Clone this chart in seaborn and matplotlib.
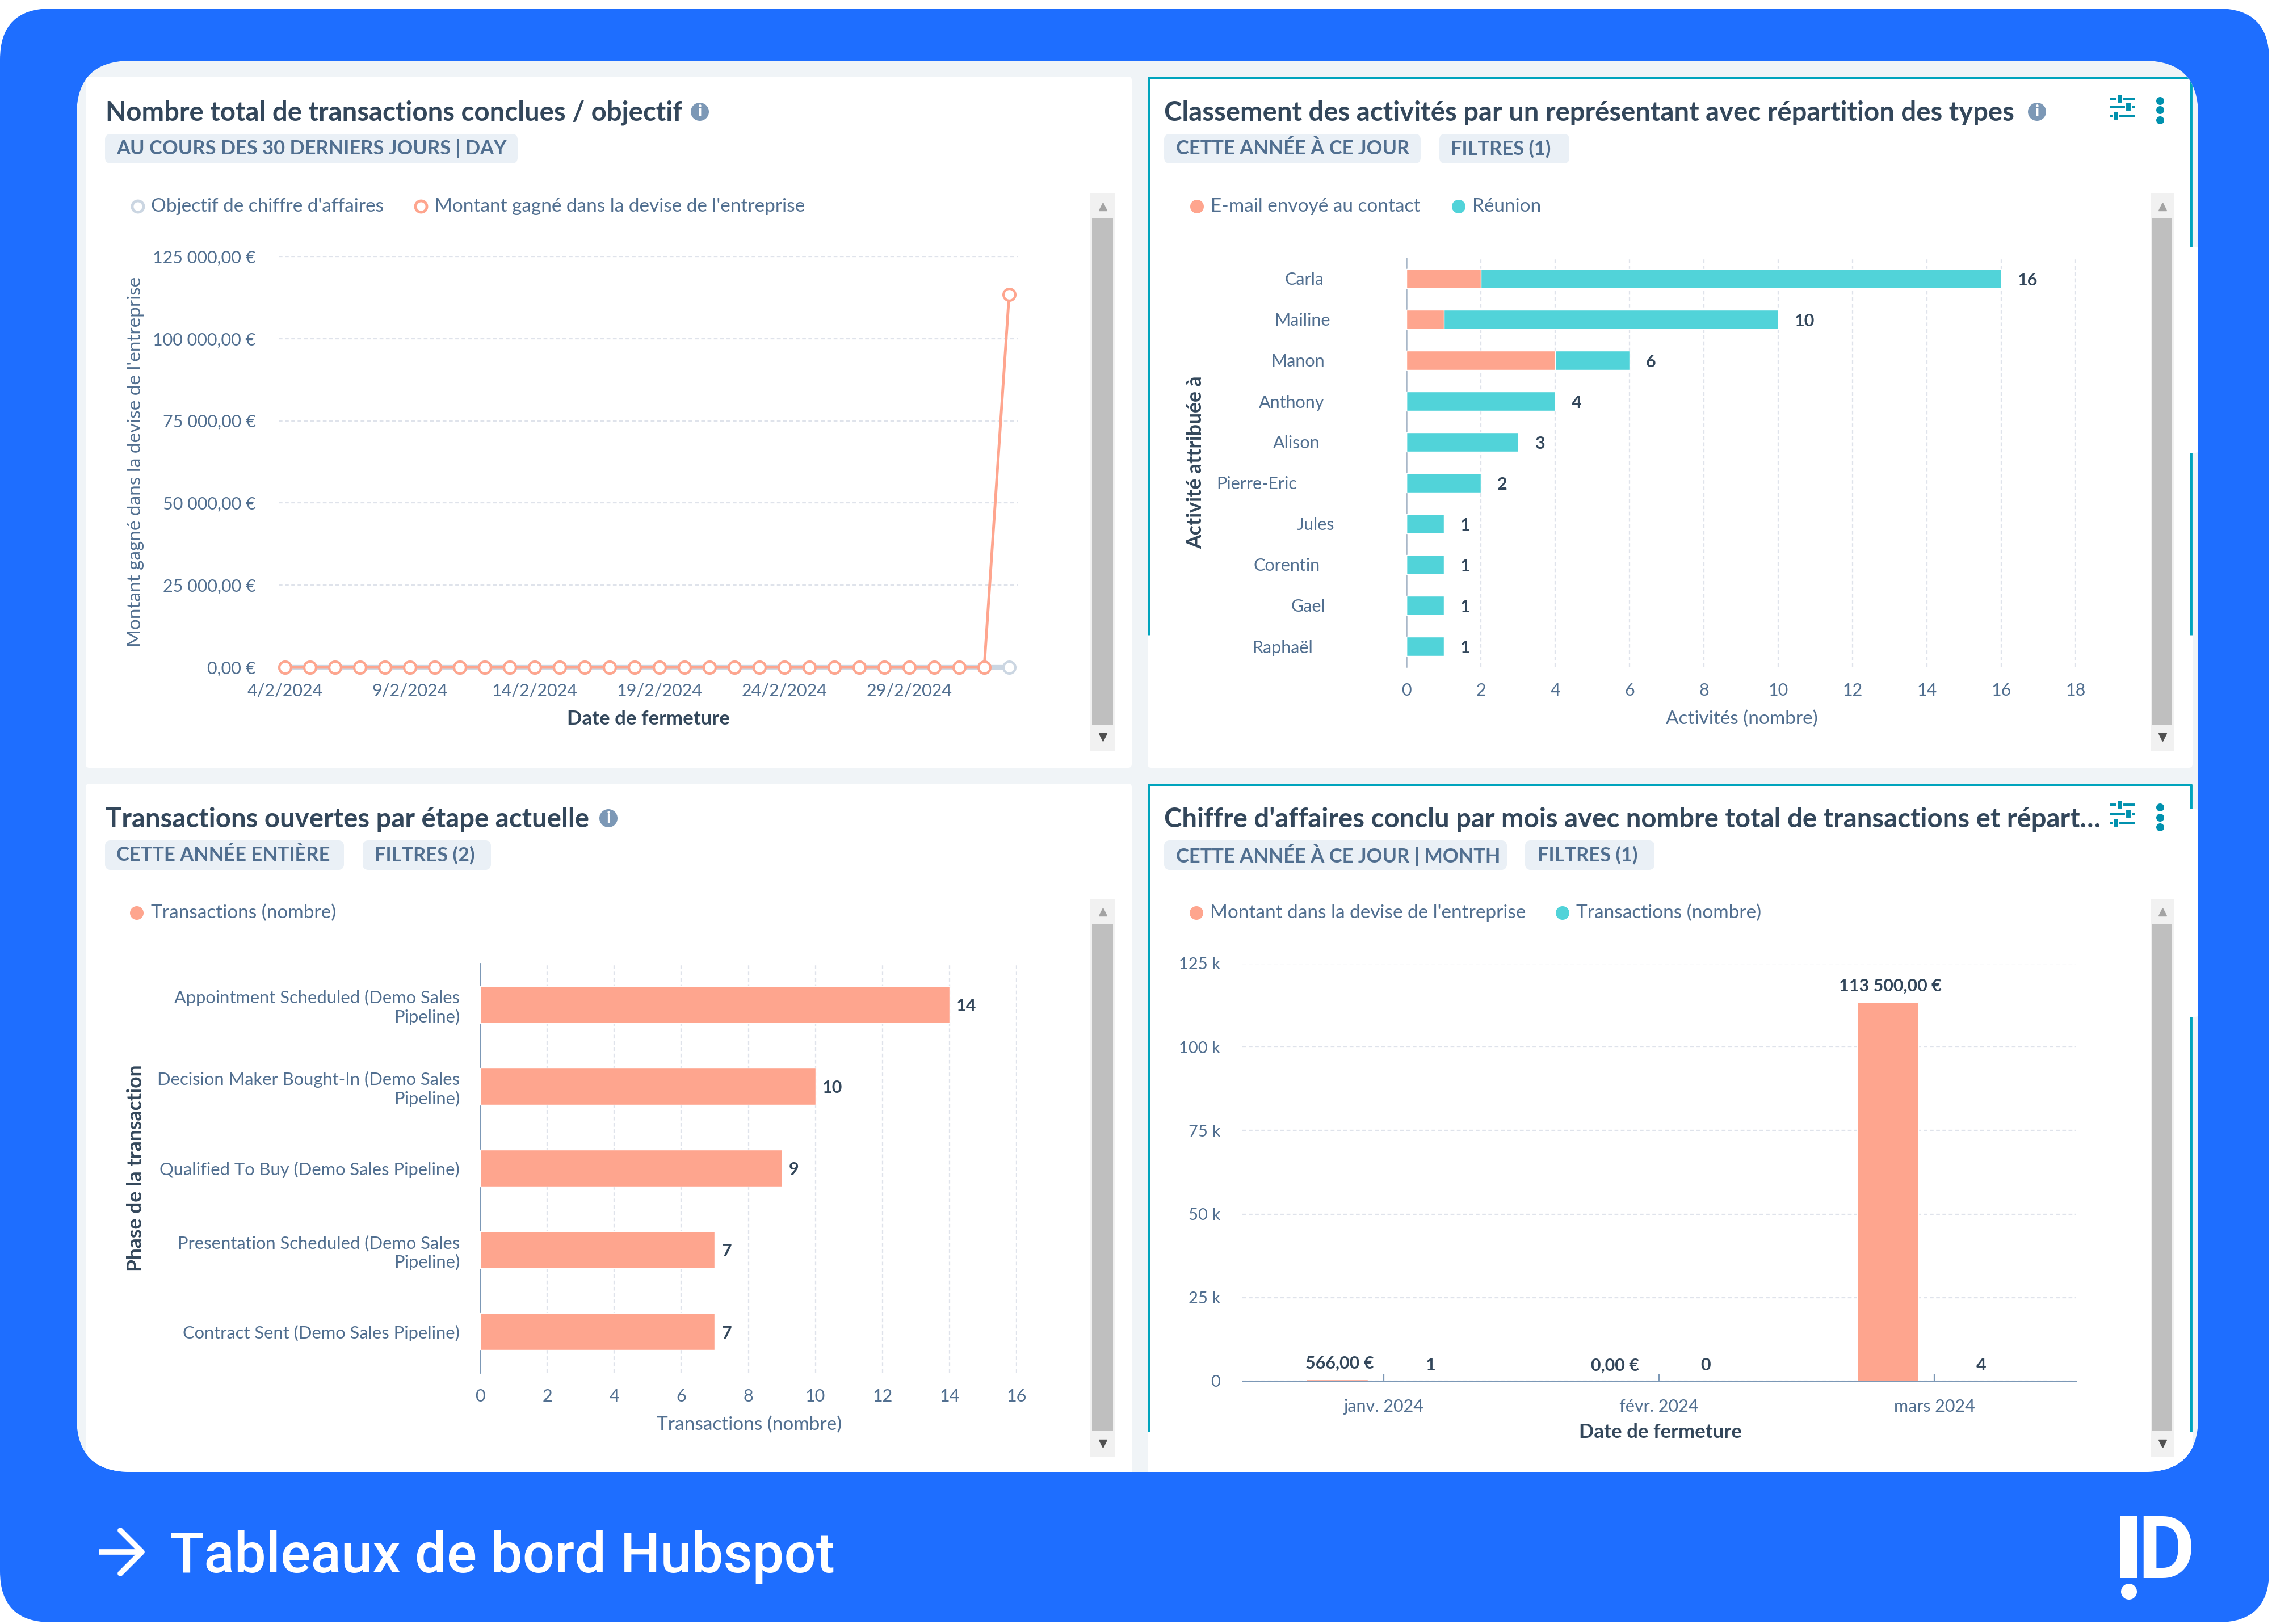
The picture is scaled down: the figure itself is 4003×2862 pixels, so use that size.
import matplotlib
matplotlib.use('Agg')
import matplotlib.pyplot as plt
from matplotlib.patches import FancyBboxPatch, Rectangle, Circle
import pandas as pd
import seaborn as sns

### Data ###
days = ['4/2/2024', '5/2/2024', '6/2/2024', '7/2/2024', '8/2/2024', '9/2/2024', '10/2/2024', '11/2/2024',
        '12/2/2024', '13/2/2024', '14/2/2024', '15/2/2024', '16/2/2024', '17/2/2024', '18/2/2024', '19/2/2024',
        '20/2/2024', '21/2/2024', '22/2/2024', '23/2/2024', '24/2/2024', '25/2/2024', '26/2/2024', '27/2/2024',
        '28/2/2024', '29/2/2024', '1/3/2024', '2/3/2024', '3/3/2024', '4/3/2024']
goal = [0, 0, 0, 0, 0, 0, 0, 0, 0, 0, 0, 0, 0, 0, 0, 0, 0, 0, 0, 0, 0, 0, 0, 0, 0, 0, 0, 0, 0, 0]
won = [0, 0, 0, 0, 0, 0, 0, 0, 0, 0, 0, 0, 0, 0, 0, 0, 0, 0, 0, 0, 0, 0, 0, 0, 0, 0, 0, 0, 0, 113500]
day_ticks = ['4/2/2024', '9/2/2024', '14/2/2024', '19/2/2024', '24/2/2024', '29/2/2024']
money_ticks = [0, 25000, 50000, 75000, 100000, 125000]
money_labels = ['0,00 €', '25 000,00 €', '50 000,00 €', '75 000,00 €', '100 000,00 €', '125 000,00 €']

reps = ['Carla', 'Mailine', 'Manon', 'Anthony', 'Alison', 'Pierre-Eric', 'Jules', 'Corentin', 'Gael', 'Raphaël']
emails = [2, 1, 4, 0, 0, 0, 0, 0, 0, 0]
meetings = [14, 9, 2, 4, 3, 2, 1, 1, 1, 1]
rep_label_pads = [105, 97, 104, 104, 110, 139, 91, 110, 103, 119]

stages = ['Appointment Scheduled (Demo Sales\nPipeline)', 'Decision Maker Bought-In (Demo Sales\nPipeline)',
          'Qualified To Buy (Demo Sales Pipeline)', 'Presentation Scheduled (Demo Sales\nPipeline)',
          'Contract Sent (Demo Sales Pipeline)']
stage_counts = [14, 10, 9, 7, 7]

months = ['janv. 2024', 'févr. 2024', 'mars 2024']
revenue = [566, 0, 113500]
revenue_labels = ['566,00 €', '0,00 €', '113 500,00 €']
deal_counts = [1, 0, 4]
k_ticks = [0, 25000, 50000, 75000, 100000, 125000]
k_labels = ['0', '25 k', '50 k', '75 k', '100 k', '125 k']

### Style ###
BLUE = '#1e6eff'
PAGE = '#f0f4f7'
TEAL_BORDER = '#00a4bd'
SALMON = '#fea58e'
AQUA = '#51d3d9'
GREY = '#cbd6e2'
DARK = '#33475b'
MID = '#516f90'
GRID = '#dfe3eb'
ICON = '#0091ae'

sns.set_theme(style='white')
plt.rcParams['font.family'] = ['Lato', 'DejaVu Sans']

W, H = 4003, 2862
fig = plt.figure(figsize=(W / 100, H / 100), dpi=100, facecolor='white')

# whole-figure axes in pixels, for the dashboard chrome
bg = fig.add_axes([0, 0, 1, 1], zorder=0)
bg.set_xlim(0, W)
bg.set_ylim(H, 0)
bg.axis('off')


def rbox(x0, y0, x1, y1, r, color, z=1):
    p = FancyBboxPatch((x0, y0), x1 - x0, y1 - y0, boxstyle=f'round,pad=0,rounding_size={r}',
                       fc=color, ec='none', zorder=z)
    bg.add_patch(p)
    return p


def chart_axes(x0, y0, x1, y1):
    ax = fig.add_axes([x0 / W, 1 - y1 / H, (x1 - x0) / W, (y1 - y0) / H], zorder=2)
    ax.patch.set_alpha(0)
    sns.despine(ax=ax, left=True, bottom=True)
    return ax


rbox(0, 15, 3998, 2859, 90, BLUE)
inner = rbox(135, 107, 3873, 2594, 95, PAGE, 2)

# panels
panel_boxes = [(151, 135, 1994, 1353), (2022, 135, 3863, 1353), (151, 1381, 1994, 2640), (2022, 1381, 3863, 2640)]
for x0, y0, x1, y1 in panel_boxes:
    p = rbox(x0, y0, x1, y1, 6, 'white', 3)
    p.set_clip_path(inner)

# teal border of the two panels being hovered
for x0, y0, y_end in [(2022, 135, 1119), (2022, 1381, 2523)]:
    for line in bg.plot([x0 + 2, x0 + 2, 3860, 3860], [y_end, y0 + 2, y0 + 2, y_end],
                        color=TEAL_BORDER, lw=3.5, zorder=4, solid_capstyle='butt'):
        line.set_clip_path(inner)
for y0, y1 in [(435, 798), (1426, 1792)]:
    rbox(3842, y0, 3880, y1, 14, 'white', 5).set_clip_path(inner)

TITLE = dict(fontsize=34, fontweight='bold', color=DARK, va='center', zorder=6)
PILL = dict(fontsize=24.8, fontweight='bold', color=MID, va='center', zorder=6)
LEG = dict(fontsize=24, color=MID, va='center', zorder=6)


def info(x, y):
    bg.add_patch(Circle((x, y), 16, fc='#7c98b6', ec='none', zorder=6))
    bg.text(x, y, 'i', color='white', fontsize=20, fontweight='bold', ha='center', va='center', zorder=7)


def pill(x0, x1, y0, y1, text, tx):
    rbox(x0, y0, x1, y1, 10, '#eaf0f6', 6)
    bg.text(tx, (y0 + y1) / 2, text, zorder=7, **{k: v for k, v in PILL.items() if k != 'zorder'})


def leg_dot(x, y, color, hollow=False):
    if hollow:
        bg.add_patch(Circle((x, y), 10, fc='white', ec=color, lw=3.5, zorder=6))
    else:
        bg.add_patch(Circle((x, y), 12, fc=color, ec='none', zorder=6))


def scrollbar(x0, x1, y0, y1):
    bg.add_patch(Rectangle((x0, y0), x1 - x0, y1 - y0, fc='#f1f1f1', ec='none', zorder=6))
    bg.add_patch(Rectangle((x0 + 3, y0 + 44), x1 - x0 - 6, y1 - y0 - 90, fc='#bfbfbf', ec='none', zorder=7))
    xc = (x0 + x1) / 2
    bg.plot([xc], [y0 + 23], marker='^', ms=10, color='#a3a3a3', zorder=8)
    bg.plot([xc], [y1 - 24], marker='v', ms=10, color='#505050', zorder=8)


def tools(y_lines, y_dots):
    knobs = [3735, 3750, 3728]
    for y, k in zip(y_lines, knobs):
        bg.plot([3717, 3761], [y, y], color=ICON, lw=3.5, zorder=6, solid_capstyle='butt')
        bg.add_patch(Rectangle((k - 5, y - 8), 10, 16, fc=ICON, ec='white', lw=1.5, zorder=7))
    for y in y_dots:
        bg.add_patch(Circle((3806, y), 7, fc=ICON, ec='none', zorder=6))


# panel headers
bg.text(186, 199, 'Nombre total de transactions conclues / objectif', **TITLE)
info(1233, 197)
pill(185, 912, 236, 288, 'AU COURS DES 30 DERNIERS JOURS | DAY', 205)
leg_dot(243, 364, GREY, True)
bg.text(266, 364, "Objectif de chiffre d'affaires", **LEG)
leg_dot(742, 364, SALMON, True)
bg.text(766, 364, "Montant gagné dans la devise de l'entreprise", **LEG)

bg.text(2051, 199, 'Classement des activités par un représentant avec répartition des types', **TITLE)
info(3589, 197)
pill(2051, 2503, 236, 288, 'CETTE ANNÉE À CE JOUR', 2072)
pill(2536, 2765, 236, 288, 'FILTRES (1)', 2556)
leg_dot(2109, 364, SALMON)
bg.text(2133, 364, 'E-mail envoyé au contact', **LEG)
leg_dot(2570, 364, AQUA)
bg.text(2594, 364, 'Réunion', **LEG)
tools([174, 188, 204], [178, 194, 212])

bg.text(186, 1444, 'Transactions ouvertes par étape actuelle', **TITLE)
info(1072, 1442)
pill(185, 606, 1481, 1533, 'CETTE ANNÉE ENTIÈRE', 205)
pill(639, 865, 1481, 1533, 'FILTRES (2)', 660)
leg_dot(241, 1609, SALMON)
bg.text(266, 1609, 'Transactions (nombre)', **LEG)

bg.text(2051, 1444, "Chiffre d'affaires conclu par mois avec nombre total de transactions et répart…", **TITLE)
pill(2051, 2655, 1481, 1533, 'CETTE ANNÉE À CE JOUR | MONTH', 2072)
pill(2687, 2915, 1481, 1533, 'FILTRES (1)', 2709)
leg_dot(2108, 1609, SALMON)
bg.text(2132, 1609, "Montant dans la devise de l'entreprise", **LEG)
leg_dot(2753, 1609, AQUA)
bg.text(2777, 1609, 'Transactions (nombre)', **LEG)
tools([1418, 1434, 1450], [1423, 1441, 1458])

scrollbar(1921, 1964, 341, 1323)
scrollbar(3789, 3830, 341, 1323)
scrollbar(1921, 1964, 1584, 2568)
scrollbar(3789, 3830, 1584, 2568)

# footer
bg.plot([174, 250], [2735, 2735], color='white', lw=7, zorder=6, solid_capstyle='butt')
bg.plot([212, 250, 212], [2697, 2735, 2773], color='white', lw=7, zorder=6)
bg.text(299, 2771, 'Tableaux de bord Hubspot', color='white', fontsize=71.5, fontweight='medium',
        family=['Roboto', 'DejaVu Sans'], va='baseline', zorder=6)
bg.add_patch(Rectangle((3736, 2671), 30, 110, fc='white', ec='none', zorder=6))
bg.add_patch(Circle((3751, 2805), 14, fc='white', ec='none', zorder=6))
bg.text(3766, 2781, 'D', color='white', fontsize=111, fontweight='bold', family=['Roboto', 'DejaVu Sans'],
        va='baseline', zorder=6)

TICK = 22
VALUE = 22


def axis_labels(ax, xlabel, xpos, ylabel=None, ypos=None, xbold=True, ybold=False):
    ax.set_xlabel(xlabel, fontsize=25 if xbold else 24, color=DARK if xbold else MID,
                  fontweight='bold' if xbold else 'normal', va='center')
    ax.xaxis.set_label_coords(*xpos, transform=bg.transData)
    if ylabel:
        ax.set_ylabel(ylabel, fontsize=25.6 if ybold else 24, color=DARK if ybold else MID,
                      fontweight='bold' if ybold else 'normal', va='center', ha='center')
        ax.yaxis.set_label_coords(*ypos, transform=bg.transData)
    else:
        ax.set_ylabel('')


def dashed_grid(ax, axis):
    ax.grid(True, axis=axis, color=GRID, lw=1.6, ls=(0, (3, 2)), zorder=0)
    ax.set_axisbelow(True)


### Chart 1: line chart ###
ax1 = chart_axes(491, 452, 1793, 1176)
ring = dict(marker='o', markersize=15, markerfacecolor='white', markeredgewidth=3, clip_on=False, errorbar=None)
sns.lineplot(x=days, y=goal, sort=False, color=GREY, lw=6, markeredgecolor=GREY, ax=ax1, zorder=3, **ring)
sns.lineplot(x=days, y=won, sort=False, color=SALMON, lw=3.5, markeredgecolor=SALMON, ax=ax1, zorder=4, **ring)
ax1.set_xlim(-0.25, 29.34)
ax1.set_ylim(0, 125000)
ax1.set_xticks(day_ticks)
ax1.set_yticks(money_ticks, money_labels)
ax1.tick_params(axis='x', length=0, pad=20, labelsize=TICK, labelcolor=MID)
ax1.tick_params(axis='y', length=0, pad=29, labelsize=TICK, labelcolor=MID)
dashed_grid(ax1, 'y')
axis_labels(ax1, 'Date de fermeture', (1142, 1267), "Montant gagné dans la devise de l'entreprise", (239, 814))

### Chart 2: stacked horizontal bars ###
ax2 = chart_axes(2478, 455, 3657, 1175)
totals = [e + m for e, m in zip(emails, meetings)]
sns.barplot(x=totals, y=reps, orient='h', color=AQUA, saturation=1, width=0.48, ax=ax2, zorder=3)
sns.barplot(x=emails, y=reps, orient='h', color=SALMON, saturation=1, width=0.48, ax=ax2, zorder=4)
ax2.set_xlim(0, 18)
ax2.set_xticks(range(0, 20, 2))
ax2.tick_params(axis='x', length=0, pad=20, labelsize=TICK, labelcolor=MID)
ax2.tick_params(axis='y', length=0, labelsize=TICK, labelcolor=MID)
for tick, pad in zip(ax2.yaxis.get_major_ticks(), rep_label_pads):
    tick.set_pad(pad)
for i, t in enumerate(totals):
    ax2.annotate(str(t), (t, i), xytext=(21, -2), textcoords='offset points', va='center', fontsize=VALUE,
                 fontweight='bold', color=DARK, zorder=5)
dashed_grid(ax2, 'x')
ax2.spines['left'].set_visible(True)
ax2.spines['left'].set_color('#a9b8c9')
ax2.spines['left'].set_linewidth(1.8)
axis_labels(ax2, 'Activités (nombre)', (3069, 1267), 'Activité attribuée à', (2107, 815), xbold=False, ybold=True)

### Chart 3: horizontal bars ###
ax3 = chart_axes(846, 1698, 1791, 2419)
sns.barplot(x=stage_counts, y=stages, orient='h', color=SALMON, saturation=1, width=0.45, ax=ax3, zorder=3)
ax3.set_xlim(0, 16)
ax3.set_xticks(range(0, 18, 2))
ax3.tick_params(axis='x', length=0, pad=20, labelsize=TICK, labelcolor=MID)
ax3.tick_params(axis='y', length=0, pad=26, labelsize=22.2, labelcolor=MID)
for t in ax3.get_yticklabels():
    t.set_horizontalalignment('right')
    t.set_multialignment('right')
for i, v in enumerate(stage_counts):
    ax3.annotate(str(v), (v, i), xytext=(9, -2), textcoords='offset points', va='center', fontsize=VALUE,
                 fontweight='bold', color=DARK, zorder=5)
dashed_grid(ax3, 'x')
ax3.spines['left'].set_visible(True)
ax3.spines['left'].set_color('#7c98b6')
ax3.spines['left'].set_linewidth(2)
axis_labels(ax3, 'Transactions (nombre)', (1320, 2511), 'Phase de la transaction', (240, 2059), xbold=False, ybold=True)

### Chart 4: grouped columns ###
ax4 = chart_axes(2189, 1698, 3658, 2434)
long_df = pd.DataFrame({
    'mois': months + months,
    'valeur': revenue + deal_counts,
    'serie': ['Montant'] * 3 + ['Transactions'] * 3,
})
sns.barplot(data=long_df, x='mois', y='valeur', hue='serie', palette=[SALMON, AQUA], saturation=1,
            width=0.68, gap=0.344, legend=False, ax=ax4, zorder=3)
ax4.set_xlim(-0.513, 2.515)
ax4.set_ylim(0, 125000)
ax4.set_yticks(k_ticks, k_labels)
ax4.tick_params(axis='x', bottom=True, direction='in', length=9, width=1.6, color='#7c98b6', pad=22,
                labelsize=TICK, labelcolor=MID)
ax4.tick_params(axis='y', length=0, pad=28, labelsize=21, labelcolor=MID)
for i, m in enumerate(months):
    ax4.annotate(revenue_labels[i], (i - 0.16, revenue[i]), xytext=(0, 20), textcoords='offset points',
                 ha='center', va='center', fontsize=VALUE, fontweight='bold', color=DARK, zorder=5)
    ax4.annotate(str(deal_counts[i]), (i + 0.17, 0), xytext=(0, 20), textcoords='offset points',
                 ha='center', va='center', fontsize=VALUE, fontweight='bold', color=DARK, zorder=5)
dashed_grid(ax4, 'y')
ax4.spines['bottom'].set_visible(True)
ax4.spines['bottom'].set_color('#7c98b6')
ax4.spines['bottom'].set_linewidth(2)
ax4.spines['bottom'].set_zorder(6)
axis_labels(ax4, 'Date de fermeture', (2925, 2524))

fig.savefig('out.png', dpi=100, facecolor='white')
